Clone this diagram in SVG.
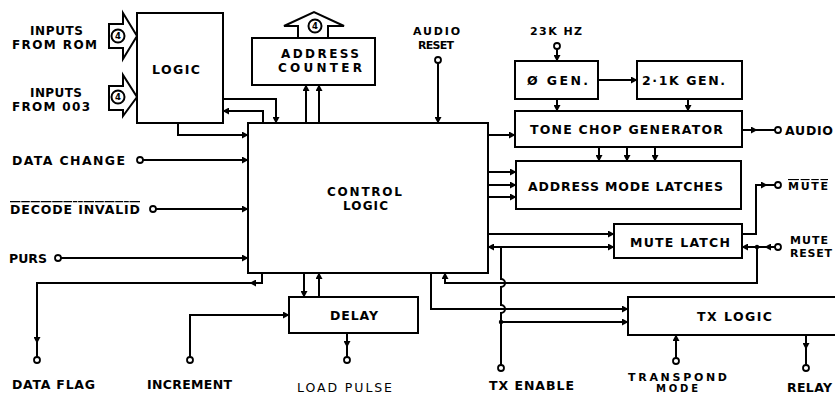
<svg xmlns="http://www.w3.org/2000/svg" width="835" height="396" viewBox="0 0 835 396">
<style>
.bx{fill:#fff;stroke:#000;stroke-width:2}
.ln{fill:none;stroke:#000;stroke-width:2}
.ar{fill:none;stroke:#000;stroke-width:2;marker-end:url(#ah)}
.pin{fill:#fff;stroke:#000;stroke-width:1.8}
.t{font-family:"DejaVu Sans","Liberation Sans",Arial,sans-serif;font-weight:bold;font-size:12.5px;fill:#000}
.m{font-size:12px}
.s{font-size:11px}
.xs{font-size:10px}
.n{font-weight:normal}
.b{font-family:"DejaVu Sans","Liberation Sans",Arial,sans-serif;font-weight:bold;font-size:8.5px;fill:#000;text-anchor:middle}
.ov{text-decoration:overline}
</style>
<defs>
<marker id="ah" markerUnits="userSpaceOnUse" markerWidth="7" markerHeight="7" refX="6" refY="3.5" orient="auto">
<path d="M0,0 L6.5,3.5 L0,7 z" fill="#000"/>
</marker>
</defs>
<rect width="835" height="396" fill="#fff"/>

<g id="connectors">
<path class="ar" d="M223,99 H276 V123"/>
<path class="ar" d="M263,123 V111 H223"/>
<path class="ar" d="M178,123 V135 H248"/>
<path class="ar" d="M306,123 V85"/>
<path class="ar" d="M319,123 V85"/>
<path class="ar" d="M438,63 V123"/>
<path class="ar" d="M143,160 H248"/>
<path class="ar" d="M156,209 H248"/>
<path class="ar" d="M61,258 H248"/>
<path class="ar" d="M262,273 V283 H250"/>
<path class="ar" d="M250,283 H37 V343"/>
<path class="ln" d="M37,342 V357"/>
<path class="ar" d="M190,357 V315 H289"/>
<path class="ar" d="M304,273 V297"/>
<path class="ar" d="M319,297 V273"/>
<path class="ar" d="M347,333 V347"/>
<path class="ln" d="M347,346 V357"/>
<path class="ar" d="M488,135 H515"/>
<path class="ar" d="M488,172 H516"/>
<path class="ar" d="M488,185 H516"/>
<path class="ar" d="M488,197 H516"/>
<path class="ar" d="M599,147 V161"/>
<path class="ar" d="M627,147 V161"/>
<path class="ar" d="M655,147 V161"/>
<path class="ar" d="M557,49 V61"/>
<path class="ar" d="M598,80 H637"/>
<path class="ar" d="M557,99 V111"/>
<path class="ar" d="M688,99 V111"/>
<path class="ar" d="M742,130 H757"/>
<path class="ln" d="M756,130 H775"/>
<path class="ar" d="M488,234 H614"/>
<path class="ar" d="M501,247 H614"/>
<path class="ar" d="M501,247 H488"/>
<path class="ln" d="M501,247 V279 a4,4 0 0 1 0,8 V305 a4,4 0 0 1 0,8 V365"/>
<path class="ar" d="M501,322 H628"/>
<circle cx="501" cy="322" r="2.2" fill="#000"/>
<path class="ar" d="M742,234 H756 V185 H767"/>
<path class="ln" d="M766,185 H775"/>
<path class="ar" d="M775,247 H765"/>
<path class="ar" d="M766,247 H742"/>
<circle cx="757" cy="247" r="2.2" fill="#000"/>
<path class="ar" d="M757,247 V283 H445 V273"/>
<path class="ar" d="M431,273 V309 H628"/>
<path class="ar" d="M676,358 V335"/>
<path class="ar" d="M806,335 V349"/>
<path class="ln" d="M806,348 V365"/>
</g>

<g id="pins">
<circle class="pin" cx="438" cy="60" r="3"/>
<circle class="pin" cx="140" cy="160" r="3"/>
<circle class="pin" cx="153" cy="209" r="3"/>
<circle class="pin" cx="58" cy="258" r="3"/>
<circle class="pin" cx="37" cy="360" r="3"/>
<circle class="pin" cx="190" cy="360" r="3"/>
<circle class="pin" cx="347" cy="360" r="3"/>
<circle class="pin" cx="557" cy="46" r="3"/>
<circle class="pin" cx="778" cy="130" r="3"/>
<circle class="pin" cx="778" cy="185" r="3"/>
<circle class="pin" cx="778" cy="247" r="3"/>
<circle class="pin" cx="501" cy="368" r="3"/>
<circle class="pin" cx="676" cy="361" r="3"/>
<circle class="pin" cx="806" cy="368" r="3"/>
</g>

<g id="bus-rom">
<polygon class="bx" points="109,24 123,24 123,13 137,36 123,59 123,48 109,48"/>
<circle class="bx" cx="118" cy="36" r="6.5"/>
<text class="b" x="118" y="39.2">4</text>
</g>
<g id="bus-003">
<polygon class="bx" points="109,86 123,86 123,75 137,97 123,116 123,110 109,110"/>
<circle class="bx" cx="118" cy="97" r="6.5"/>
<text class="b" x="118" y="100.2">4</text>
</g>
<g id="bus-addr">
<polygon class="bx" points="298,38 298,26 284,26 314,12 344,26 328,26 328,38"/>
<circle class="bx" cx="315" cy="26" r="6.5"/>
<text class="b" x="315" y="29.2">4</text>
</g>

<g id="logic">
<rect class="bx" x="137" y="13" width="86" height="110"/>
<text class="t" x="152" y="74" textLength="48">LOGIC</text>
</g>
<g id="address-counter">
<rect class="bx" x="252" y="38" width="123" height="47"/>
<text class="t m" x="281" y="58" textLength="78">ADDRESS</text>
<text class="t m" x="278" y="72" textLength="84">COUNTER</text>
</g>
<g id="control-logic">
<rect class="bx" x="248" y="123" width="240" height="150"/>
<text class="t m" x="327" y="196" textLength="75">CONTROL</text>
<text class="t m" x="343" y="210" textLength="45">LOGIC</text>
</g>
<g id="phase-gen">
<rect class="bx" x="515" y="61" width="83" height="38"/>
<text class="t" x="527" y="85" textLength="61">Ø GEN.</text>
</g>
<g id="gen-21k">
<rect class="bx" x="637" y="61" width="105" height="38"/>
<text class="t" x="642" y="85" textLength="83">2·1K GEN.</text>
</g>
<g id="tone-chop">
<rect class="bx" x="515" y="111" width="227" height="36"/>
<text class="t" x="530" y="134" textLength="193">TONE CHOP GENERATOR</text>
</g>
<g id="address-mode-latches">
<rect class="bx" x="516" y="161" width="225" height="48"/>
<text class="t" x="528" y="191" textLength="195">ADDRESS MODE LATCHES</text>
</g>
<g id="mute-latch">
<rect class="bx" x="614" y="224" width="128" height="34"/>
<text class="t" x="630" y="247" textLength="100">MUTE LATCH</text>
</g>
<g id="delay">
<rect class="bx" x="289" y="297" width="129" height="36"/>
<text class="t" x="330" y="320" textLength="48">DELAY</text>
</g>
<g id="tx-logic">
<rect class="bx" x="628" y="297" width="220" height="38"/>
<text class="t" x="697" y="321" textLength="75">TX LOGIC</text>
</g>

<g id="labels">
<text class="t m" x="30" y="35" textLength="53">INPUTS</text>
<text class="t m" x="12" y="49" textLength="85">FROM ROM</text>
<text class="t m" x="30" y="97" textLength="52">INPUTS</text>
<text class="t m" x="12" y="111" textLength="78">FROM 003</text>
<text class="t s" x="413" y="35" textLength="47">AUDIO</text>
<text class="t s" x="418" y="49" textLength="36">RESET</text>
<text class="t s" x="530" y="35" textLength="52">23K HZ</text>
<text class="t" x="12" y="165" textLength="113">DATA CHANGE</text>
<text class="t ov" x="10" y="214" textLength="130">DECODE INVALID</text>
<text class="t" x="9" y="263" textLength="38">PURS</text>
<text class="t" x="12" y="389" textLength="83">DATA FLAG</text>
<text class="t" x="147" y="389" textLength="85">INCREMENT</text>
<text class="t n" x="297" y="392" textLength="95">LOAD PULSE</text>
<text class="t" x="489" y="390" textLength="85">TX ENABLE</text>
<text class="t s" x="628" y="381" textLength="99">TRANSPOND</text>
<text class="t xs" x="656" y="392" textLength="42">MODE</text>
<text class="t" x="787" y="392" textLength="45">RELAY</text>
<text class="t" x="785" y="135" textLength="48">AUDIO</text>
<text class="t s ov" x="788" y="190" textLength="40">MUTE</text>
<text class="t s" x="790" y="244" textLength="38">MUTE</text>
<text class="t s" x="790" y="257" textLength="42">RESET</text>
</g>
</svg>
